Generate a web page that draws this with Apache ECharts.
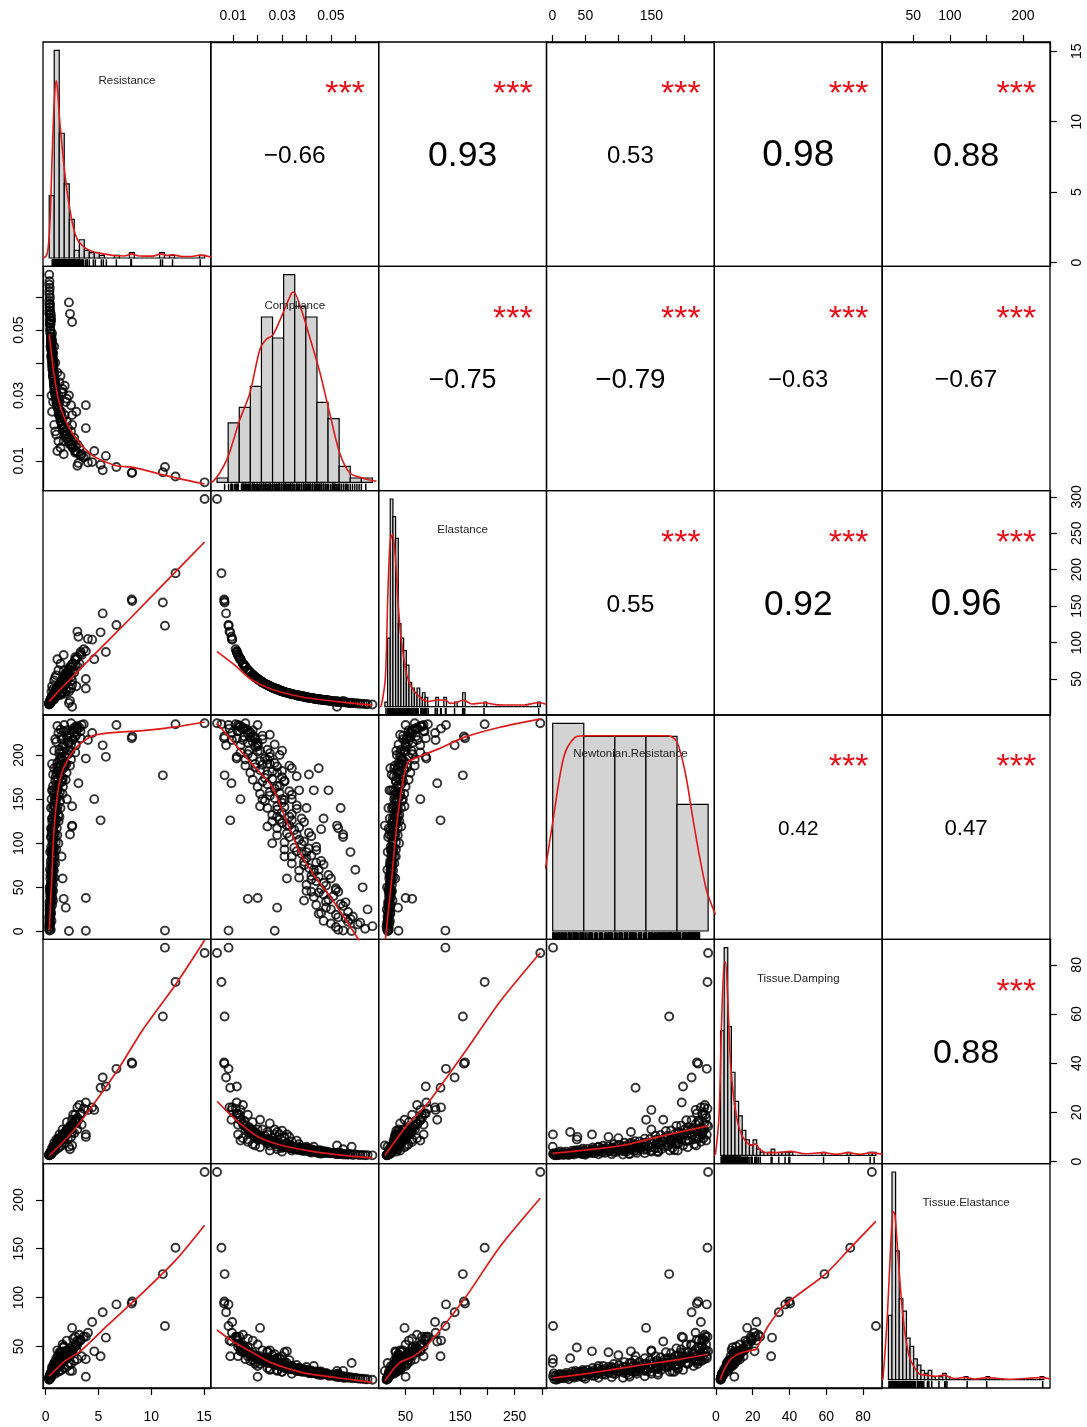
<!DOCTYPE html>
<html><head><meta charset="utf-8">
<script src="https://cdn.jsdelivr.net/npm/echarts@6/dist/echarts.min.js"></script>
<style>html,body{margin:0;padding:0;background:#fff}#chart{width:1087px;height:1427px}</style>
</head><body><div id="chart"></div>
<script>
// ---------------- observations (same row order in every array) ----------------
const resistance = [
  15.06, 12.3, 11.1, 11.3, 8.15, 8.2, 6.7, 5.4, 5.7, 5.2,
  4.0, 4.4, 3.1, 3.8, 4.6, 3.8, 2.2, 2.5, 3.8, 2.5,
  2.5, 1.7, 3.0, 2.8, 0.6, 0.55, 0.5, 0.48, 0.35, 0.33,
  2.3, 1.9, 1.6, 1.5, 2.0, 0.7, 0.65,
  0.33, 0.34, 0.35, 0.36, 0.37, 0.39, 0.41, 0.44, 0.48, 0.55,
  0.34, 0.36, 0.38, 0.4, 0.41, 0.43, 0.45, 0.48, 0.52, 0.6,
  0.35, 0.38, 0.42, 0.45, 0.47, 0.5, 0.53, 0.56, 0.62, 0.7,
  0.4, 0.44, 0.48, 0.51, 0.54, 0.57, 0.6, 0.64, 0.7, 0.8,
  0.45, 0.49, 0.53, 0.56, 0.6, 0.63, 0.66, 0.71, 0.78, 0.9,
  0.48, 0.53, 0.58, 0.62, 0.66, 0.69, 0.73, 0.78, 0.86, 1.0,
  0.52, 0.57, 0.62, 0.67, 0.71, 0.75, 0.8, 0.86, 0.95, 1.1,
  0.56, 0.62, 0.68, 0.73, 0.78, 0.82, 0.87, 0.94, 1.05, 1.22,
  0.62, 0.69, 0.76, 0.82, 0.88, 0.93, 0.99, 1.07, 1.2, 1.4,
  0.7, 0.78, 0.86, 0.93, 1.0, 1.06, 1.13, 1.22, 1.37, 1.6,
  0.8, 0.9, 1.0, 1.1, 1.18, 1.26, 1.35, 1.46, 1.63, 1.9,
  0.95, 1.08, 1.2, 1.3, 1.42, 1.52, 1.62, 1.76, 1.98, 2.3,
  1.1, 1.28, 1.42, 1.56, 1.7, 1.82, 1.95, 2.12, 2.4, 2.8,
  1.3, 1.5, 1.7, 1.88, 2.05, 2.2, 2.36, 2.55, 2.85, 3.3,
  1.5, 1.75, 1.98, 2.2, 2.4, 2.6, 2.8, 3.0, 3.3, 3.6,
  1.3, 1.6, 2.0, 2.4, 2.9, 1.1, 1.8, 2.2, 0.9, 1.4,
  0.6, 0.8, 1.0, 0.7, 1.2, 0.9, 1.4, 0.55, 1.1, 1.7,
  1.0, 1.3, 0.8, 1.6, 2.0, 0.6, 2.6, 1.2, 0.7, 3.2,
  1.5, 2.1, 2.7, 1.2, 3.4, 1.8, 0.9, 2.4, 3.0, 1.3,
  0.45, 0.5, 0.7, 0.4, 0.42, 0.5, 0.6, 0.8, 0.36, 0.38
];
const compliance = [
  0.0034, 0.0052, 0.0065, 0.0081, 0.0063, 0.0064, 0.0081, 0.0071, 0.0115, 0.0088,
  0.0095, 0.0096, 0.0093, 0.0114, 0.013, 0.02, 0.0585, 0.0525, 0.027, 0.021,
  0.024, 0.016, 0.0085, 0.0125, 0.047, 0.046, 0.053, 0.055, 0.062, 0.067,
  0.055, 0.028, 0.032, 0.031, 0.022, 0.041, 0.043,
  0.064, 0.058, 0.061, 0.055, 0.057, 0.052, 0.056, 0.050, 0.053, 0.047,
  0.059, 0.055, 0.057, 0.052, 0.054, 0.05, 0.053, 0.048, 0.046, 0.044,
  0.056, 0.053, 0.051, 0.049, 0.052, 0.047, 0.048, 0.045, 0.043, 0.04,
  0.052, 0.05, 0.047, 0.048, 0.045, 0.044, 0.046, 0.042, 0.04, 0.037,
  0.049, 0.047, 0.045, 0.043, 0.044, 0.041, 0.042, 0.039, 0.037, 0.034,
  0.046, 0.044, 0.042, 0.04, 0.041, 0.038, 0.039, 0.036, 0.034, 0.031,
  0.044, 0.042, 0.039, 0.038, 0.036, 0.037, 0.035, 0.033, 0.031, 0.028,
  0.041, 0.039, 0.037, 0.035, 0.034, 0.033, 0.032, 0.03, 0.028, 0.026,
  0.038, 0.036, 0.034, 0.033, 0.031, 0.03, 0.029, 0.028, 0.026, 0.024,
  0.036, 0.034, 0.031, 0.03, 0.029, 0.027, 0.028, 0.025, 0.023, 0.021,
  0.033, 0.031, 0.029, 0.027, 0.026, 0.024, 0.025, 0.022, 0.02, 0.018,
  0.03, 0.028, 0.026, 0.024, 0.022, 0.021, 0.023, 0.019, 0.017, 0.015,
  0.027, 0.025, 0.023, 0.021, 0.02, 0.018, 0.019, 0.016, 0.015, 0.013,
  0.024, 0.022, 0.02, 0.019, 0.017, 0.016, 0.0165, 0.014, 0.013, 0.0115,
  0.022, 0.02, 0.018, 0.017, 0.015, 0.014, 0.0145, 0.0125, 0.0118, 0.011,
  0.034, 0.031, 0.029, 0.027, 0.025, 0.037, 0.033, 0.03, 0.04, 0.036,
  0.025, 0.021, 0.018, 0.028, 0.016, 0.019, 0.014, 0.03, 0.013, 0.012,
  0.028, 0.024, 0.032, 0.02, 0.018, 0.04, 0.016, 0.026, 0.043, 0.014,
  0.025, 0.02, 0.017, 0.03, 0.012, 0.024, 0.034, 0.019, 0.015, 0.028,
  0.045, 0.042, 0.039, 0.06, 0.058, 0.054, 0.049, 0.045, 0.065, 0.063
];
const elastance = [
  297, 195, 155, 123, 159, 157, 124, 140, 87, 114,
  105, 104, 108, 88, 77, 50, 17, 12, 37, 48,
  42, 62, 115, 80, 21, 22, 19, 18, 16, 15,
  20, 36, 31, 32, 45, 24.4, 23.3,
  15.6, 17.2, 16.4, 18.2, 17.5, 19.2, 17.9, 20, 18.9, 21.3,
  16.9, 18.2, 17.5, 19.2, 18.5, 20, 18.9, 20.8, 21.7, 22.7,
  17.9, 18.9, 19.6, 20.4, 19.2, 21.3, 20.8, 22.2, 23.3, 25,
  19.2, 20, 21.3, 20.8, 22.2, 22.7, 21.7, 23.8, 25, 27,
  20.4, 21.3, 22.2, 23.3, 22.7, 24.4, 23.8, 25.6, 27, 29.4,
  21.7, 22.7, 23.8, 25, 24.4, 26.3, 25.6, 27.8, 29.4, 32.3,
  22.7, 23.8, 25.6, 26.3, 27.8, 27, 28.6, 30.3, 32.3, 35.7,
  24.4, 25.6, 27, 28.6, 29.4, 30.3, 31.3, 33.3, 35.7, 38.5,
  26.3, 27.8, 29.4, 30.3, 32.3, 33.3, 34.5, 35.7, 38.5, 41.7,
  27.8, 29.4, 32.3, 33.3, 34.5, 37, 35.7, 40, 43.5, 47.6,
  30.3, 32.3, 34.5, 37, 38.5, 41.7, 40, 45.5, 50, 55.6,
  33.3, 35.7, 38.5, 41.7, 45.5, 47.6, 43.5, 52.6, 58.8, 66.7,
  37, 40, 43.5, 47.6, 50, 55.6, 52.6, 62.5, 66.7, 76.9,
  41.7, 45.5, 50, 52.6, 58.8, 62.5, 60.6, 71.4, 76.9, 87,
  45.5, 50, 55.6, 58.8, 66.7, 71.4, 69, 80, 84.7, 90.9,
  29, 32, 34, 37, 40, 27, 30, 33, 25, 28,
  40, 48, 55, 36, 62, 52, 71, 33, 77, 83,
  36, 42, 31, 50, 56, 25, 62, 38, 23, 71,
  40, 50, 59, 33, 83, 42, 29, 53, 67, 36,
  22, 24, 26, 16.7, 17.2, 18.5, 20.4, 22, 15.4, 15.9
];
const newtonianResistance = [
  236, 235, 177, 1, 219, 221, 234, 211, 198, 126,
  217, 225, 168, 196, 150, 38, 0.5, 120, 0.8, 142,
  119, 37, 230, 232, 128, 116, 117, 107, 10, 6,
  110, 27, 60, 85, 150, 178, 160,
  3, 14, 8, 1, 11, 5, 15, 9, 2, 12,
  17, 29, 22, 19, 31, 25, 16, 27, 21, 30,
  33, 45, 40, 36, 47, 42, 34, 44, 39, 46,
  49, 60, 55, 52, 62, 57, 48, 59, 53, 61,
  64, 76, 70, 67, 78, 72, 63, 75, 69, 77,
  80, 92, 86, 83, 94, 88, 79, 91, 85, 93,
  96, 108, 102, 99, 110, 104, 95, 107, 101, 109,
  112, 124, 118, 115, 126, 120, 111, 123, 117, 125,
  128, 139, 133, 130, 141, 135, 127, 138, 132, 140,
  143, 155, 149, 146, 157, 151, 142, 154, 148, 156,
  159, 171, 165, 162, 173, 167, 158, 170, 164, 172,
  175, 187, 181, 178, 189, 183, 174, 186, 180, 188,
  191, 202, 196, 193, 204, 198, 190, 201, 195, 203,
  206, 218, 212, 209, 220, 214, 205, 217, 211, 219,
  222, 234, 228, 225, 236, 230, 221, 233, 227, 235,
  185, 170, 200, 212, 223, 160, 188, 205, 140, 176,
  190, 205, 215, 165, 225, 218, 229, 150, 233, 227,
  180, 195, 120, 210, 222, 90, 228, 100, 70, 231,
  198, 214, 226, 182, 234, 190, 150, 220, 230, 130,
  20, 45, 35, 70, 90, 140, 160, 185, 25, 50
];
const tissueDamping = [
  84.8, 73, 59, 87, 40.3, 39.8, 37.7, 34.2, 30.5, 30,
  21, 22, 17, 24, 21, 10, 6, 6.5, 11, 17,
  12, 9, 22, 19, 3.5, 3.2, 3, 2.8, 2.6, 2.5,
  5, 12, 11, 10, 13, 4.5, 4.2,
  2.5, 2.9, 2.7, 3.1, 2.8, 3.3, 3.0, 3.6, 3.4, 4.1,
  2.6, 3.0, 2.8, 3.2, 3.4, 3.3, 3.7, 3.5, 4.0, 4.4,
  2.8, 3.0, 3.3, 3.6, 3.5, 3.9, 4.1, 4.4, 4.6, 5.2,
  3.1, 3.4, 3.6, 3.9, 4.1, 4.3, 4.5, 4.8, 5.1, 5.7,
  3.4, 3.7, 3.9, 4.2, 4.4, 4.7, 5.0, 5.2, 5.8, 6.4,
  3.5, 3.9, 4.1, 4.5, 4.8, 5.0, 5.3, 5.7, 6.2, 7.0,
  3.8, 4.1, 4.5, 4.8, 5.1, 5.4, 5.8, 6.2, 6.8, 7.6,
  4.0, 4.4, 4.8, 5.1, 5.5, 5.8, 6.2, 6.7, 7.4, 8.3,
  4.4, 4.8, 5.3, 5.6, 6.0, 6.4, 6.8, 7.4, 8.2, 9.3,
  4.9, 5.4, 5.9, 6.3, 6.8, 7.2, 7.7, 8.3, 9.2, 10.5,
  5.5, 6.1, 6.8, 7.3, 7.9, 8.4, 9.0, 9.7, 10.8, 12.4,
  6.4, 7.1, 7.9, 8.5, 9.2, 9.8, 10.4, 11.3, 12.6, 14.5,
  7.3, 8.3, 9.0, 9.9, 10.6, 11.3, 12.0, 13.1, 14.6, 16.8,
  8.4, 9.5, 10.6, 11.6, 12.4, 13.2, 14.0, 15.2, 16.8, 19.5,
  9.4, 10.9, 12.1, 13.4, 14.3, 15.5, 16.6, 17.8, 19.4, 21.5,
  8, 9.5, 11, 13, 15.5, 7, 10, 12.5, 6, 8.5,
  4.5, 5.8, 7, 5, 8, 6.5, 9.5, 4, 8.5, 11,
  9, 11, 7.5, 13, 16, 5.5, 19, 9.5, 6, 23,
  6.5, 9, 11.5, 5.5, 15, 7.5, 4.5, 10, 13, 6,
  3.3, 3.6, 4.5, 2.9, 3.0, 3.4, 3.8, 4.6, 2.6, 2.7
];
const tissueElastance = [
  228.5, 151, 124, 71, 94, 96, 93, 85, 59, 40,
  64, 75, 55, 60, 45, 19, 33, 25, 37, 69,
  45, 49, 56, 60, 22, 21, 19, 18, 17, 16,
  25, 38, 45, 44, 46, 24, 23,
  16.5, 18, 17.2, 19.5, 18.4, 20.1, 19, 21, 22.4, 21.8,
  17.5, 19, 18.3, 20, 19.4, 21.2, 20.5, 22, 23, 24.5,
  18, 18.8, 20.3, 21, 22, 21.5, 23, 24.2, 23.6, 26,
  19, 20, 21.4, 22, 22.8, 23.5, 24.4, 24, 26, 28,
  20, 21.5, 22, 23.2, 24, 24.8, 25.5, 26.4, 27.5, 30,
  21, 22, 23, 24, 25, 25.5, 26.6, 27.5, 29, 32,
  22, 23, 24.3, 25, 26, 27, 28, 29, 31, 34,
  22.5, 24, 25, 26.5, 27, 28.5, 29, 30.5, 33, 36,
  24, 25, 26.5, 27.5, 28.3, 29.5, 30.2, 32, 34, 38,
  25, 27, 28, 29.5, 30, 31.5, 32.5, 34, 36, 40,
  27, 29, 30, 31.5, 33, 34, 35.5, 37, 39, 44,
  29, 31, 32.5, 34, 35.5, 37, 38, 40, 43, 48,
  31, 33, 35, 36.5, 38, 40, 41, 43.5, 47, 52,
  33, 35.5, 37.5, 39, 41, 43, 44, 47, 51, 57,
  35, 38, 40, 43, 45, 47, 50, 52, 56, 60,
  30, 34, 38, 42, 46, 28, 36, 40, 26, 31,
  27, 32, 36, 26, 40, 34, 44, 24, 46, 50,
  38, 44, 33, 52, 56, 29, 58, 41, 30, 62,
  26, 30, 35, 24, 40, 28, 22, 32, 37, 25,
  21, 22.5, 25, 18, 18.5, 19.5, 21, 24, 16.5, 17
];

// ---------------- variable names, correlations ----------------
const varNames = ['Resistance', 'Compliance', 'Elastance', 'Newtonian.Resistance', 'Tissue.Damping', 'Tissue.Elastance'];
const correlations = [
  [-0.66, 0.93, 0.53, 0.98, 0.88],
  [-0.75, -0.79, -0.63, -0.67],
  [0.55, 0.92, 0.96],
  [0.42, 0.47],
  [0.88]
];
const significance = '***';

// ---------------- axis ticks / labels ----------------
const tickValues = [[0, 5, 10, 15], [0.01, 0.02, 0.03, 0.04, 0.05, 0.06], [50, 100, 150, 200, 250, 300], [0, 50, 100, 150, 200], [0, 20, 40, 60, 80], [50, 100, 150, 200]];
const horizontalLabels = [[0, 5, 10, 15], [0.01, 0.03, 0.05], [50, 150, 250], [0, 50, 150], [0, 20, 40, 60, 80], [50, 100, 200]];
const verticalLabels = [[0, 5, 10, 15], [0.01, 0.03, 0.05], [50, 100, 150, 200, 250, 300], [0, 50, 100, 150, 200], [0, 20, 40, 60, 80], [50, 100, 150, 200]];

// ---------------- histograms (bin start, bin width, relative heights) ----------------
const histStart = [0, 0, 10, 0, 2, 15];
const histWidth = [0.5, 0.005, 5, 50, 2, 5];
const histResistance = [0.30, 1.0, 0.60, 0.357, 0.186, 0.037, 0.088, 0.037, 0.026, 0.026, 0.013, 0, 0, 0.013, 0, 0, 0.026, 0, 0, 0, 0, 0, 0.026, 0, 0.013, 0, 0, 0, 0, 0, 0.013];
const histCompliance = [0.021, 0.286, 0.361, 0.462, 0.796, 0.695, 1.0, 0.847, 0.796, 0.385, 0.307, 0.077, 0.021, 0.021];
const histElastance = [0.022, 0.33, 1.0, 0.915, 0.81, 0.40, 0.33, 0.27, 0.2, 0.117, 0.09, 0.067, 0.09, 0.045, 0.067, 0.045, 0, 0, 0, 0.045, 0, 0, 0.045, 0, 0, 0, 0.022, 0, 0, 0.067, 0, 0, 0, 0, 0, 0, 0, 0.022, 0, 0, 0, 0, 0, 0, 0, 0, 0, 0, 0, 0, 0, 0, 0, 0, 0, 0, 0, 0.022];
const histNewtonian = [1.0, 0.9375, 0.9375, 0.9375, 0.61];
const histTissueDamping = [0.60, 1.0, 0.62, 0.40, 0.26, 0.19, 0.12, 0.075, 0.05, 0.075, 0.03, 0.015, 0, 0.015, 0.03, 0, 0.015, 0.015, 0.015, 0.015, 0, 0, 0, 0, 0, 0, 0, 0, 0.015, 0, 0, 0, 0, 0, 0, 0.015, 0, 0, 0, 0, 0, 0.015, 0.015];
const histTissueElastance = [0.31, 1.0, 0.62, 0.39, 0.33, 0.2, 0.16, 0.1, 0.07, 0.045, 0.03, 0.045, 0.015, 0, 0.015, 0.03, 0.015, 0, 0, 0, 0, 0.015, 0, 0, 0, 0, 0, 0.015, 0, 0, 0, 0, 0, 0, 0, 0, 0, 0, 0, 0, 0, 0, 0.015];

// ---------------- density curves (x, relative density) ----------------
const densResistance = [[-0.6,0],[-0.3,0.01],[-0.1,0.05],[0.1,0.2],[0.3,0.5],[0.5,0.75],[0.7,0.855],[0.85,0.8],[1.0,0.69],[1.2,0.58],[1.4,0.48],[1.7,0.35],[2.0,0.25],[2.4,0.15],[2.8,0.09],[3.2,0.065],[3.7,0.045],[4.4,0.03],[5.4,0.02],[6.5,0.012],[7.5,0.01],[8.2,0.02],[9,0.01],[10.3,0.009],[11.2,0.02],[11.8,0.012],[12.3,0.016],[13.3,0.007],[14.2,0.007],[15.1,0.014],[16.2,0.004]];
const densCompliance = [[-0.003,0],[-0.0018,0.005],[0.0012,0.045],[0.005,0.125],[0.0102,0.30],[0.0148,0.43],[0.0193,0.64],[0.0223,0.69],[0.0252,0.71],[0.0297,0.815],[0.0335,0.91],[0.0345,0.915],[0.038,0.83],[0.0417,0.70],[0.0463,0.53],[0.0508,0.33],[0.0553,0.14],[0.0598,0.045],[0.0658,0.02],[0.0718,0.005]];
const densElastance = [[0,0],[3.4,0.005],[10.9,0.14],[15.8,0.56],[20,0.8],[24.5,0.83],[29.5,0.72],[34.4,0.51],[39.4,0.35],[45,0.24],[51,0.15],[60.4,0.09],[69.7,0.06],[79,0.037],[91.5,0.025],[107,0.032],[122.6,0.032],[132,0.016],[142,0.019],[157,0.032],[172,0.013],[196,0.019],[216,0.01],[240,0.008],[270,0.008],[295,0.019],[311,0.012]];
const densNewtonian = [[-12,0.3],[-10,0.33],[1.3,0.55],[18,0.84],[34.8,0.93],[50.5,0.94],[120,0.94],[186,0.94],[200,0.91],[214,0.75],[225.6,0.54],[236.8,0.35],[248,0.19],[259,0.1],[262,0.08]];
const densTissueDamping = [[-1.5,0],[-0.78,0.008],[1.15,0.19],[2.48,0.61],[4.1,0.93],[4.8,0.93],[5.9,0.77],[7.5,0.45],[9.1,0.29],[10.8,0.19],[12.7,0.12],[15.6,0.072],[19.5,0.048],[21.4,0.056],[23.3,0.032],[27.2,0.013],[33,0.013],[40.7,0.019],[48.4,0.008],[59,0.013],[65.8,0.005],[72.5,0.013],[79.3,0.005],[85,0.013],[91.5,0.005]];
const densTissueElastance = [[6,0],[7.4,0.002],[13.6,0.31],[18.4,0.66],[21.7,0.81],[24.2,0.79],[28.1,0.61],[32.9,0.39],[37.7,0.23],[43.6,0.116],[50.8,0.06],[58,0.027],[67.6,0.022],[79.6,0.016],[91.7,0.022],[106,0.006],[120.5,0.011],[135,0.003],[151,0.01],[183,0.002],[226.6,0.01],[239,0.003]];

// ---------------- smoothed fits for the lower panels (x, y) ----------------
const fitComplianceVsResistance = [[0.34,0.0487],[0.72,0.038],[1.2,0.0288],[1.83,0.0227],[2.94,0.0166],[4.5,0.0115],[6.7,0.0085],[8.3,0.008],[11.5,0.0054],[15.06,0.0029]];
const fitElastanceVsResistance = [[0.33,19],[1,30],[2,45],[4.5,82],[8,133],[12.3,197],[15.06,238]];
const fitElastanceVsCompliance = [[0.0034,87.5],[0.011,68],[0.017,50],[0.0257,36],[0.0388,25],[0.0534,18.7],[0.067,14.3]];
const fitNewtonianVsResistance = [[0.34,2],[0.58,63],[0.75,108],[1.02,146],[1.42,176],[2.1,195],[3.1,211],[4.5,222],[6.9,226],[9.2,227.6],[12.3,232],[15.06,237.5]];
const fitNewtonianVsCompliance = [[0.0034,236],[0.017,192],[0.0257,165],[0.0316,127],[0.0374,89],[0.0433,63],[0.0506,36],[0.062,-12]];
const fitNewtonianVsElastance = [[13,-9],[25,63],[34.8,127],[44.8,169],[54.6,192],[77.7,199],[110.8,207],[157,220],[223,231.5],[297.7,241]];
const fitDampingVsResistance = [[0.34,2.4],[2.44,11.6],[4.48,23],[6.85,37.4],[9.2,53.6],[12.3,71.9],[15.06,90]];
const fitDampingVsCompliance = [[0.0034,24.5],[0.011,17],[0.0198,10.3],[0.0286,6.9],[0.0417,4.2],[0.0563,2.4],[0.067,1.5]];
const fitDampingVsElastance = [[12,2.4],[51,14.3],[91,23.8],[157,44],[223,65],[297,84.9]];
const fitDampingVsNewtonian = [[0.5,3.3],[60,4.9],[113,6.9],[165,10.3],[236,14.5]];
const fitTissueElVsResistance = [[0.33,19.5],[1.77,34.8],[3.3,45.2],[5.8,71],[9.2,105],[12.3,138],[15.06,174]];
const fitTissueElVsCompliance = [[0.0034,66.8],[0.0096,55.5],[0.017,45],[0.0257,33.2],[0.0388,23],[0.0534,17.7],[0.067,13.2]];
const fitTissueElVsElastance = [[12,15],[38,33],[64.6,40],[91,52],[157,98],[223,152],[297,201.6]];
const fitTissueElVsNewtonian = [[0.5,17.7],[60,23],[128.5,30.4],[191,36.6],[236,42]];
const fitTissueElVsDamping = [[2.2,16],[5,28],[8,37],[13,43],[19,46],[21.8,47],[24,55],[28.4,71],[36.9,91.5],[59.5,124],[72.7,150],[86.9,178]];

// ---------------- assemble ----------------
const vars = [resistance, compliance, elastance, newtonianResistance, tissueDamping, tissueElastance];
const hists = [histResistance, histCompliance, histElastance, histNewtonian, histTissueDamping, histTissueElastance];
const dens = [densResistance, densCompliance, densElastance, densNewtonian, densTissueDamping, densTissueElastance];
const fits = {
  '1-0': fitComplianceVsResistance,
  '2-0': fitElastanceVsResistance, '2-1': fitElastanceVsCompliance,
  '3-0': fitNewtonianVsResistance, '3-1': fitNewtonianVsCompliance, '3-2': fitNewtonianVsElastance,
  '4-0': fitDampingVsResistance, '4-1': fitDampingVsCompliance, '4-2': fitDampingVsElastance, '4-3': fitDampingVsNewtonian,
  '5-0': fitTissueElVsResistance, '5-1': fitTissueElVsCompliance, '5-2': fitTissueElVsElastance, '5-3': fitTissueElVsNewtonian, '5-4': fitTissueElVsDamping
};

const FONT = "'Liberation Sans', Arial, Helvetica, sans-serif";
const RED = '#dd1a1a';
const STAR_RED = '#e8101a';
const GL = 43, GT = 42, GW = (1050 - 43) / 6, GH = (1388 - 42) / 6;

function extent(arr) {
  const mn = Math.min(...arr), mx = Math.max(...arr), d = (mx - mn) * 0.04;
  return [mn - d, mx + d];
}
const ranges = vars.map(extent);

function makeAxis(dim, g, range, pos, ticks, labels) {
  const base = { type: 'value', gridIndex: g, min: range[0], max: range[1], splitLine: { show: false } };
  if (!pos) return Object.assign(base, { show: false });
  let margin = 17;
  if (pos === 'top') margin = 19;
  if (pos === 'bottom') margin = 22;
  if (pos === 'right') margin = 20;
  return Object.assign(base, {
    show: true, position: pos,
    axisLine: { show: true, onZero: false, lineStyle: { color: '#000', width: 1.3 } },
    axisTick: { show: true, inside: false, length: 7, customValues: ticks, lineStyle: { color: '#000', width: 1.2 } },
    axisLabel: {
      show: true, customValues: labels, rotate: dim === 'y' ? 90 : 0, margin,
      fontSize: 14, color: '#000', fontFamily: FONT,
      formatter: v => String(v)
    }
  });
}

function textEl(x, y, text, size, fill) {
  return {
    type: 'text', x, y, z: 100, silent: true,
    style: { text, fill, font: size + 'px ' + FONT, fontSize: size, fontFamily: FONT,
             align: 'center', verticalAlign: 'middle', textAlign: 'center', textVerticalAlign: 'middle' }
  };
}

const grid = [], xAxis = [], yAxis = [], series = [], graphic = [];

for (let i = 0; i < 6; i++) {
  for (let j = 0; j < 6; j++) {
    const g = i * 6 + j;
    const left = GL + j * GW, top = GT + i * GH;
    grid.push({ left, top, width: GW, height: GH, show: true, borderColor: '#000', borderWidth: 1.3 });

    let xPos = null, yPos = null;
    if (i === 0 && j % 2 === 1) xPos = 'top';
    if (i === 5 && j % 2 === 0) xPos = 'bottom';
    if (j === 0 && i % 2 === 1) yPos = 'left';
    if (j === 5 && i % 2 === 0) yPos = 'right';

    if (i === j) {
      const hb = histStart[i], hw = histWidth[i], hh = hists[i];
      const span = hh.length * hw;
      const hx = [hb - 0.04 * span, hb + span + 0.04 * span];
      const hmax = Math.max(...hh);
      const hy = [-0.04 * hmax, 1.04 * hmax];
      xAxis.push(makeAxis('x', g, hx, null));
      yAxis.push(makeAxis('y', g, hy, null));
      series.push({
        type: 'custom', xAxisIndex: g, yAxisIndex: g, silent: true,
        data: hh.map((h, k) => [hb + k * hw, hb + (k + 1) * hw, h]),
        encode: { x: [0, 1], y: 2 },
        renderItem: (params, api) => {
          const p0 = api.coord([api.value(0), 0]);
          const p1 = api.coord([api.value(1), api.value(2)]);
          return { type: 'rect', shape: { x: p0[0], y: p1[1], width: p1[0] - p0[0], height: p0[1] - p1[1] },
                   style: { fill: '#d3d3d3', stroke: '#000', lineWidth: 1.2 } };
        }
      });
      series.push({
        type: 'line', xAxisIndex: g, yAxisIndex: g, data: dens[i], showSymbol: false, silent: true,
        clip: true, smooth: 0.3, lineStyle: { color: RED, width: 1.6 }, z: 4
      });
      const yBottom = hy[0];
      series.push({
        type: 'custom', xAxisIndex: g, yAxisIndex: g, silent: true,
        data: vars[i].map(v => [v, 0]), encode: { x: 0, y: 1 },
        renderItem: (params, api) => {
          const p = api.coord([api.value(0), yBottom]);
          return { type: 'line', shape: { x1: p[0], y1: p[1], x2: p[0], y2: p[1] - 7 }, style: { stroke: '#000', lineWidth: 1.5 } };
        }
      });
      graphic.push(textEl(left + GW / 2, top + 39, varNames[i], 11.5, '#222'));
    } else {
      const xr = ranges[j], yr = ranges[i];
      xAxis.push(makeAxis('x', g, xr, xPos, tickValues[j], horizontalLabels[j]));
      yAxis.push(makeAxis('y', g, yr, yPos, tickValues[i], verticalLabels[i]));
      if (i > j) {
        series.push({
          type: 'scatter', xAxisIndex: g, yAxisIndex: g, silent: true, clip: true,
          data: vars[j].map((v, k) => [v, vars[i][k]]),
          symbol: 'circle', symbolSize: 8,
          itemStyle: { color: 'rgba(0,0,0,0)', borderColor: '#000', borderWidth: 1.9 }
        });
        series.push({
          type: 'line', xAxisIndex: g, yAxisIndex: g, data: fits[i + '-' + j], showSymbol: false, silent: true,
          clip: true, smooth: 0.25, lineStyle: { color: RED, width: 1.7 }, z: 4
        });
      } else {
        const r = correlations[i][j - i - 1];
        const txt = (r < 0 ? '\u2212' : '') + Math.abs(r).toFixed(2);
        const size = (Math.abs(r) + 0.3) * (r < 0 ? 25.5 : 28.9);
        graphic.push(textEl(left + GW / 2, top + GH / 2 + 2, txt, size, '#000'));
        graphic.push(textEl(left + 0.8 * GW, top + 0.2 * GH + 8, significance, 34, STAR_RED));
      }
    }
  }
}

const chart = echarts.init(document.getElementById('chart'), null, { renderer: 'canvas' });
chart.setOption({ animation: false, backgroundColor: '#fff', grid, xAxis, yAxis, series, graphic });
</script>
</body></html>
